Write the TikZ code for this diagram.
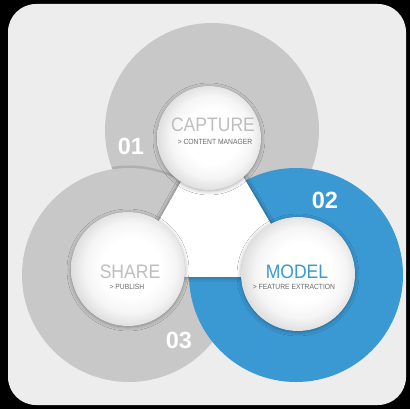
\documentclass[tikz,border=0pt]{standalone}
\usepackage{fontspec}
\setmainfont{Liberation Sans}
\usetikzlibrary{shadows.blur}
\definecolor{panel}{RGB}{237,237,237}
\definecolor{ringgray}{RGB}{200,200,200}
\definecolor{ringblue}{RGB}{58,152,210}
\definecolor{titlegray}{RGB}{190,190,190}
\definecolor{subgray}{RGB}{105,105,105}
\pgfdeclareradialshading{ballshade}{\pgfpoint{2bp}{1bp}}{color(0bp)=(white); color(13bp)=(white); color(20bp)=(white!96!black); color(26bp)=(white!87!black); color(50bp)=(white!87!black)}
\begin{document}
\begin{tikzpicture}[x=1pt,y=-1pt,
  ring/.style={circle, minimum size=214pt, inner sep=0pt, draw=none},
  ball/.style={circle, inner sep=0pt, shading=ballshade,
    blur shadow={shadow xshift=0pt, shadow yshift=-1pt, shadow blur radius=4pt, shadow opacity=35}},
  title/.style={font=\fontsize{19.5}{20}\selectfont, inner sep=0pt},
  sub/.style={font=\fontsize{7.5}{8}\selectfont, text=subgray, inner sep=0pt},
  num/.style={font=\fontsize{23.5}{24}\selectfont\bfseries, text=white, inner sep=0pt}]
\fill[black] (0,0) rectangle (410,409);
\useasboundingbox (0,0) rectangle (410,409);
\fill[panel, rounded corners=28pt] (8,4) rectangle (406,405);
% rings
\node[ring, fill=ringgray] (r1) at (212,130) {};
\begin{scope}
  \clip (212,130) circle (107);
  \fill[black, opacity=0.12] (129,275) circle (109.5);
\end{scope}
\node[ring, fill=ringgray] (r3) at (129,275) {};
\node[ring, fill=ringblue] (r2) at (296,275) {};
% hub triangle
\coordinate (tA) at (213,125);
\coordinate (tL) at (127,277);
\coordinate (tR) at (302,277);
\fill[white, blur shadow={shadow xshift=0pt, shadow yshift=0pt, shadow blur radius=4pt, shadow opacity=55}] (tA) -- (tL) -- (tR) -- cycle;
% inner balls
\node[ball, minimum size=104pt] (capture) at (209,138) {};
\node[ball, minimum size=114pt] (share) at (128,269) {};
\node[ball, minimum size=114pt] (model) at (298,274) {};
% texts
\node[title, text=titlegray] (captureT) at (213,125) {\scalebox{0.9}[1]{CAPTURE}};
\node[sub] (captureS) at (215,142) {\scalebox{0.9}[1]{> CONTENT MANAGER}};
\node[title, text=titlegray] (shareT) at (130,271.5) {\scalebox{0.9}[1]{SHARE}};
\node[sub] (shareS) at (127,287) {\scalebox{0.9}[1]{> PUBLISH}};
\node[title, text=ringblue] (modelT) at (297,271.5) {\scalebox{0.9}[1]{MODEL}};
\node[sub] (modelS) at (294,287) {\scalebox{0.9}[1]{> FEATURE EXTRACTION}};
\node[num] (n1) at (131,146) {01};
\node[num] (n2) at (325,200) {02};
\node[num] (n3) at (179,340) {03};
\end{tikzpicture}
\end{document}
